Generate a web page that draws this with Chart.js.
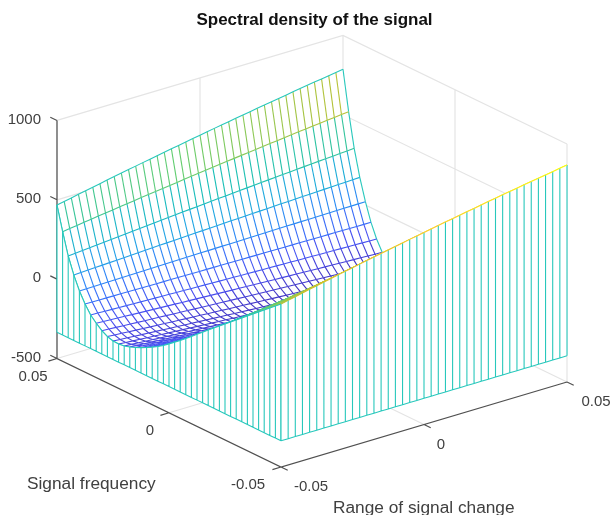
<!DOCTYPE html>
<html>
<head>
<meta charset="utf-8">
<title>Spectral density of the signal</title>
<script src="https://cdn.jsdelivr.net/npm/chart.js@4"></script>
<style>
  html, body { margin: 0; padding: 0; background: #fff; }
  canvas { display: block; filter: blur(0.6px); }
</style>
</head>
<body>
<canvas id="myChart" width="613" height="515"></canvas>
<script>
// values
const titleText = "Spectral density of the signal";
const xAxisLabel = "Range of signal change";
const yAxisLabel = "Signal frequency";
const xTicks = [-0.05, 0, 0.05];
const yTicks = [-0.05, 0, 0.05];
const zTicks = [-500, 0, 500, 1000];

// Signal frequency grid, back edge first
const yGrid = [0.05, 0.0475, 0.045, 0.0425, 0.04, 0.0375, 0.035, 0.0325, 0.03, 0.0275, 0.025,
  0.0225, 0.02, 0.0175, 0.015, 0.0125, 0.01, 0.0075, 0.005, 0.0025, 0,
  -0.0025, -0.005, -0.0075, -0.01, -0.0125, -0.015, -0.0175, -0.02, -0.0225, -0.025,
  -0.0275, -0.03, -0.0325, -0.035, -0.0375, -0.04, -0.0425, -0.045, -0.0475, -0.05];
// Range of signal change grid
const xGrid = [-0.05, -0.0475, -0.045, -0.0425, -0.04, -0.0375, -0.035, -0.0325, -0.03, -0.0275, -0.025,
  -0.0225, -0.02, -0.0175, -0.015, -0.0125, -0.01, -0.0075, -0.005, -0.0025, 0,
  0.0025, 0.005, 0.0075, 0.01, 0.0125, 0.015, 0.0175, 0.02, 0.0225, 0.025,
  0.0275, 0.03, 0.0325, 0.035, 0.0375, 0.04, 0.0425, 0.045, 0.0475, 0.05];
// height along the x = -0.05 edge, one per yGrid entry
const leftEdge = [467, 316, 180, 77, -6, -71, -123, -158, -188, -208, -219,
  -221, -216, -205, -191, -175, -157, -138, -117, -93, -66,
  -38, -10, 19, 49, 80, 110, 141, 171, 201, 230,
  260, 290, 319, 349, 378, 409, 438, 468, 497, 527];
// height along the x = 0.05 edge; past the first rows it sits behind the curtain, so those are estimates
const rightEdge = [787, 537, 323, 157, 21, -92, -180, -247, -290, -320, -335,
  -338, -332, -320, -300, -280, -255, -225, -195, -160, -110,
  -65, -20, 30, 80, 130, 180, 230, 280, 330, 380,
  430, 478, 526, 574, 624, 673, 722, 771, 820, 867];
// share of the right edge at each xGrid entry, read from the front and back edges
const rangeWeight = [0, 0.029, 0.057, 0.086, 0.114, 0.142, 0.170, 0.198, 0.225, 0.252, 0.279,
  0.306, 0.333, 0.359, 0.385, 0.412, 0.437, 0.463, 0.489, 0.514, 0.539,
  0.564, 0.589, 0.613, 0.637, 0.662, 0.685, 0.709, 0.733, 0.756, 0.779,
  0.802, 0.825, 0.848, 0.870, 0.892, 0.914, 0.936, 0.957, 0.979, 1];
const curtainBase = -335;

// interior cells are not read one by one: they come from the two edges and the weights
const heights = yGrid.map((y, j) => xGrid.map((x, i) => leftEdge[j] + (rightEdge[j] - leftEdge[j]) * rangeWeight[i]));

// parula, older MATLAB version
const parula = [[62,38,168],[72,77,240],[50,124,252],[32,165,227],[25,191,182],[100,205,111],[209,191,39],[252,207,48],[249,251,21]];
const colorMin = -340, colorMax = 870;
const curtainColor = "rgb(40,200,188)";
const gridColor = "#e4e4e4";
const axisColor = "#505050";
const textColor = "#404040";
const meshWidth = 1.1;

function colorOf(z) {
  let t = (z - colorMin) / (colorMax - colorMin);
  t = Math.min(Math.max(t, 0), 1) * (parula.length - 1);
  const a = Math.min(Math.floor(t), parula.length - 2);
  const f = t - a;
  const c = parula[a].map((v, n) => Math.round(v + (parula[a + 1][n] - v) * f));
  return "rgb(" + c.join(",") + ")";
}

// fixed 3D view of the MATLAB axes, turned into the 2D scale values
function project(x, y, z) {
  const u = (x + 0.05) / 0.1;
  const v = (y + 0.05) / 0.1;
  return {
    x: 281 + 286 * u - 224 * v,
    y: 467 - 85 * u - 108.5 * v - (z + 500) * 0.1587
  };
}

const gap = { x: null, y: null };
const datasets = [];

function addLines(points, color, width) {
  datasets.push({ data: points, borderColor: color, borderWidth: width, fill: false });
}
function addPatch(points) {
  datasets.push({ data: points, borderWidth: 0, borderColor: "rgba(0,0,0,0)", backgroundColor: "#fff", fill: "shape" });
}
function addEdges(points, colors) {
  datasets.push({
    data: points, borderColor: curtainColor, borderWidth: meshWidth, fill: false,
    edgeColors: colors,
    segment: { borderColor: ctx => ctx.chart.data.datasets[ctx.datasetIndex].edgeColors[ctx.p0DataIndex] }
  });
}

// grid on the back walls and the floor
let grid = [];
xTicks.slice(0, 2).forEach(x => {
  grid.push(project(x, 0.05, -500), project(x, 0.05, 1000), gap);
});
yTicks.slice(0, 2).forEach(y => {
  grid.push(project(0.05, y, -500), project(0.05, y, 1000), gap);
});
grid.push(project(0.05, 0.05, -500), project(0.05, 0.05, 1000), gap);
zTicks.forEach(z => {
  grid.push(project(-0.05, 0.05, z), project(0.05, 0.05, z), project(0.05, -0.05, z), gap);
});
grid.push(project(0, -0.05, -500), project(0, 0.05, -500), gap);
grid.push(project(-0.05, 0, -500), project(0.05, 0, -500), gap);
addLines(grid, gridColor, 1.2);

// axes and tick marks
let axes = [project(-0.05, 0.05, 1000), project(-0.05, 0.05, -500), project(-0.05, -0.05, -500), project(0.05, -0.05, -500), gap];
zTicks.forEach(z => axes.push(project(-0.05, 0.05, z), project(-0.05, 0.053, z), gap));
yTicks.forEach(y => axes.push(project(-0.05, y, -500), project(-0.053, y, -500), gap));
xTicks.forEach(x => axes.push(project(x, -0.05, -500), project(x, -0.053, -500), gap));
addLines(axes, axisColor, 1.2);

// surface, painted strip by strip from the back
const last = xGrid.length - 1;
yGrid.forEach((y, j) => {
  const row = xGrid.map((x, i) => project(x, y, heights[j][i]));
  const edgePts = [], edgeCols = [];
  if (j < yGrid.length - 1) {
    const next = xGrid.map((x, i) => project(x, yGrid[j + 1], heights[j + 1][i]));
    addPatch(row.concat(next.slice().reverse(), [row[0]]));
    row.forEach((p, i) => {
      const isSide = i === 0 || i === last;
      edgePts.push(p, next[i], gap);
      edgeCols.push(isSide ? curtainColor : colorOf(heights[j + 1][i]), "#fff", "#fff");
    });
  }
  row.forEach((p, i) => {
    edgePts.push(p);
    edgeCols.push(j === 0 ? curtainColor : colorOf(heights[j][i]));
  });
  addEdges(edgePts, edgeCols);
});

// curtain below the left and the front edge
const sideTop = yGrid.map((y, j) => project(-0.05, y, heights[j][0]));
const sideBase = yGrid.map(y => project(-0.05, y, curtainBase));
const frontTop = xGrid.map((x, i) => project(x, -0.05, heights[last][i]));
const frontBase = xGrid.map(x => project(x, -0.05, curtainBase));
function addCurtain(top, base) {
  addPatch(top.concat(base.slice().reverse(), [top[0]]));
  const sticks = [];
  top.forEach((p, n) => sticks.push(p, base[n], gap));
  addLines(sticks.concat(base), curtainColor, meshWidth);
}
addCurtain(sideTop, sideBase);
addLines(sideTop, curtainColor, meshWidth);
addCurtain(frontTop, frontBase);
addEdges(frontTop, frontTop.map((p, i) => colorOf(heights[last][i])));

// text that has to sit next to the projected axes
const axisText = {
  id: "axisText",
  afterDraw(chart) {
    const ctx = chart.ctx;
    const sx = chart.scales.x, sy = chart.scales.y;
    const put = (text, p, dx, dy, align) => {
      ctx.textAlign = align;
      ctx.fillText(text, sx.getPixelForValue(p.x) + dx, sy.getPixelForValue(p.y) + dy);
    };
    ctx.save();
    ctx.fillStyle = textColor;
    ctx.textBaseline = "middle";
    ctx.font = "15px 'Liberation Sans', Arial, sans-serif";
    zTicks.forEach(z => put(String(z), project(-0.05, 0.05, z), -16, -1, "right"));
    yTicks.forEach((y, n) => put(String(y), project(-0.05, y, -500), [-33, -19, -24][n], 18, "center"));
    xTicks.forEach((x, n) => put(String(x), project(x, -0.05, -500), [30, 17, 29][n], 20, "center"));
    ctx.font = "17.3px 'Liberation Sans', Arial, sans-serif";
    ctx.textAlign = "left";
    ctx.fillText(yAxisLabel, sx.getPixelForValue(27), sy.getPixelForValue(484));
    ctx.fillText(xAxisLabel, sx.getPixelForValue(333), sy.getPixelForValue(508));
    ctx.restore();
  }
};

const ctx = document.getElementById("myChart").getContext("2d");
new Chart(ctx, {
  type: "scatter",
  data: { datasets: datasets.slice().reverse() },
  options: {
    responsive: false,
    animation: false,
    events: [],
    layout: { padding: { left: 16 } },
    elements: { point: { radius: 0 }, line: { tension: 0, borderCapStyle: "butt" } },
    datasets: { scatter: { showLine: true, clip: false, spanGaps: false } },
    scales: {
      x: { type: "linear", display: false, min: 16, max: 613 },
      y: { type: "linear", display: false, min: 30, max: 515, reverse: true }
    },
    plugins: {
      legend: { display: false },
      tooltip: { enabled: false },
      title: {
        display: true,
        text: titleText,
        fullSize: false,
        color: "#111",
        font: { family: "'Liberation Sans', Arial, sans-serif", size: 17, weight: "bold", lineHeight: "19px" },
        padding: { top: 11, bottom: 0 }
      }
    }
  },
  plugins: [axisText]
});
</script>
</body>
</html>
